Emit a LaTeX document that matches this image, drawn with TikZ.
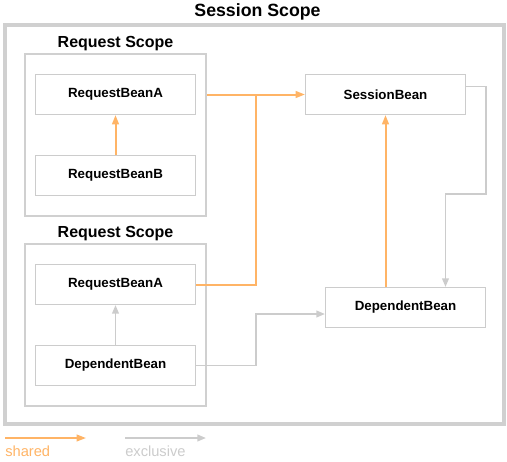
\documentclass[tikz,border=0pt]{standalone}
\usepackage{fontspec}
\setmainfont{Liberation Sans}
\usepackage{xcolor}
\usetikzlibrary{positioning, arrows.meta, fit, backgrounds, calc}
\definecolor{sharedcol}{HTML}{FFB466}
\definecolor{exclcol}{HTML}{CCCCCC}
\definecolor{framecol}{HTML}{D0D0D0}

\begin{document}
\begin{tikzpicture}[
    x=0.75pt, y=-0.75pt,
    bean/.style={draw=exclcol, line width=0.75pt, fill=white, minimum width=120pt, minimum height=30pt, font=\fontsize{10}{12}\selectfont\bfseries},
    scopebox/.style={draw=framecol, line width=1.8pt, inner xsep=7.5pt, inner ysep=15pt},
    scopelbl/.style={font=\fontsize{12}{14}\selectfont\bfseries, inner sep=1pt},
    shared/.style={draw=sharedcol, line width=1.5pt, -{Triangle[length=7pt, width=5pt]}},
    excl/.style={draw=exclcol, line width=1.4pt, -{Triangle[length=6.5pt, width=5pt]}},
    legtxt/.style={font=\fontsize{11}{13}\selectfont, inner sep=0pt, anchor=base west}
]
\useasboundingbox (0,0) rectangle (507,461);
% Session scope frame and title
\node[draw=framecol, line width=3pt, minimum width=374.6pt, minimum height=299.6pt] (session) at (254.75,224.25) {};
\node[font=\fontsize{13.3}{15}\selectfont\bfseries, inner sep=0pt, anchor=base] (title) at (257.5,16.5) {Session Scope};
% First request scope
\node[bean] (reqA1) at (115.5,94.5) {RequestBeanA};
\node[bean, below=30pt of reqA1] (reqB) {RequestBeanB};
% Second request scope
\node[bean] (reqA2) at (115.5,284.5) {RequestBeanA};
\node[bean, below=30pt of reqA2] (depL) {DependentBean};
% Session level beans on the right
\node[bean] (sess) at (385.5,94.5) {SessionBean};
\node[bean] (depR) at (405.5,307.5) {DependentBean};
% Scope frames behind the beans
\begin{scope}[on background layer]
  \node[scopebox, fit=(reqA1) (reqB), label={[scopelbl]above:Request Scope}] (scope1) {};
  \node[scopebox, fit=(reqA2) (depL), label={[scopelbl]above:Request Scope}] (scope2) {};
\end{scope}
% Junction where both RequestBeanA lines meet
\coordinate (jn) at (256,94.5);
% Shared links
\draw[shared] (reqB) -- (reqA1);
\draw[shared] (scope1.east |- reqA1.east) -- (sess.west);
\draw[shared, -] (reqA2.east) -| (jn);
\draw[shared] (sess.south |- depR.north) -- (sess.south);
% Exclusive links
\draw[excl] (depL) -- (reqA2);
\draw[excl] (depL.east) -- (depL.east -| jn) |- ($(depR.west)+(0,6.5)$);
\draw[excl] ($(sess.east)+(0,-8)$) -- ++(20,0) -- ++(0,107.5) -| ($(depR.north)+(40,0)$);
% Legend
\coordinate (legS1) at (5,438);
\coordinate (legS2) at (86,438);
\coordinate (legE1) at (125,438);
\coordinate (legE2) at (206,438);
\draw[shared, line width=1.3pt] (legS1) -- (legS2);
\draw[excl] (legE1) -- (legE2);
\node[legtxt, text=sharedcol] (legSt) at (5,456.5) {shared};
\node[legtxt, text=exclcol] (legEt) at (125,456.5) {exclusive};
\end{tikzpicture}
\end{document}
